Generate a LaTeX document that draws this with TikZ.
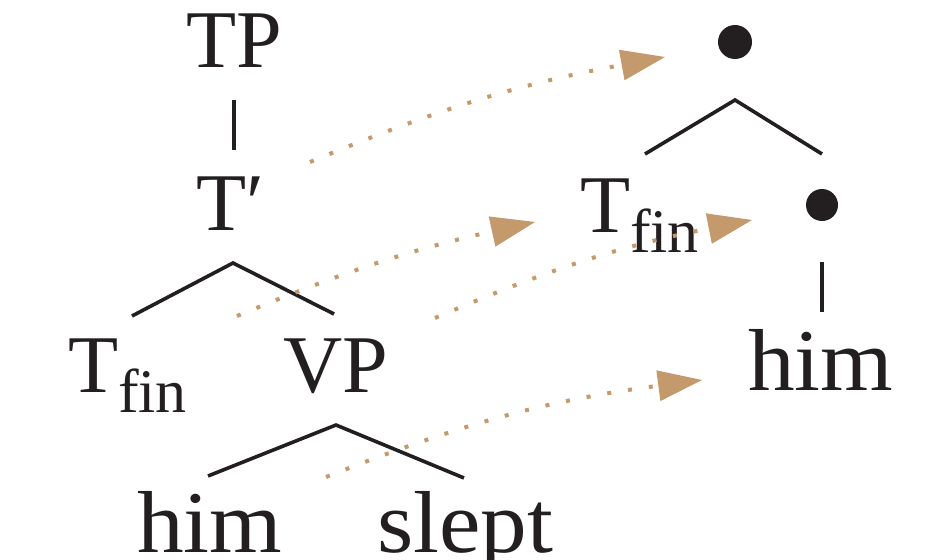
\documentclass[tikz,border=0pt]{standalone}
\usepackage{fontspec}
\setmainfont{Liberation Serif}
\usetikzlibrary{arrows.meta}
\definecolor{ink}{HTML}{231F20}
\definecolor{tan}{HTML}{C49A6C}
\newcommand{\bigtext}{\fontsize{82}{82}\selectfont}
\newcommand{\wordtext}{\fontsize{88}{88}\selectfont}
\newcommand{\wideword}[1]{\scalebox{1.06}[1]{#1}}
\newcommand{\subfin}{{\fontsize{62}{62}\selectfont\raisebox{-20pt}{fin}}}
\begin{document}
\begin{tikzpicture}[x=1pt,y=-1pt,
  lbl/.style={inner sep=0pt,outer sep=0pt,text=ink,font=\bigtext,anchor=base west},
  word/.style={lbl,font=\wordtext},
  branch/.style={draw=ink,line width=3.6pt},
  movearrow/.style={draw=tan,line width=4pt,dash pattern=on 4pt off 17pt,
    -{Triangle[length=44pt,width=31pt,fill=tan,line width=0pt]},shorten >=0pt},
  bullet/.style={circle,fill=ink,inner sep=0pt}]
\useasboundingbox (0,0) rectangle (941,559);

% left tree
\node[lbl,anchor=base] (tp) at (234,68) {TP};
\node[lbl] (tbar) at (196,230) {T′};
\node[lbl] (tfinL) at (68,392) {T\subfin};
\node[lbl] (vp) at (283,392) {VP};
\node[word] (himL) at (137,552) {\wideword{him}};
\node[word] (slept) at (377,552) {\wideword{slept}};

\coordinate (tpbot) at (234,100);
\coordinate (tbartop) at (234,150);
\coordinate (tbarapex) at (233,263);
\coordinate (tbarL) at (132,316);
\coordinate (tbarR) at (334,314);
\coordinate (vpapex) at (336,425);
\coordinate (vpL) at (208,476);
\coordinate (vpR) at (464,478);
\draw[branch] (tpbot) -- (tbartop);
\draw[branch] (tbarL) -- (tbarapex) -- (tbarR);
\draw[branch] (vpL) -- (vpapex) -- (vpR);

% right tree
\node[bullet,minimum size=34pt] (top) at (735,42) {};
\node[lbl] (tfinR) at (580,232) {T\subfin};
\node[bullet,minimum size=32pt] (inner) at (822,205) {};
\node[word] (himR) at (748,390) {\wideword{him}};

\coordinate (topapex) at (735,100);
\coordinate (topL) at (645,154);
\coordinate (topR) at (822,154);
\coordinate (innerbot) at (822,262);
\coordinate (himtop) at (822,312);
\draw[branch] (topL) -- (topapex) -- (topR);
\draw[branch] (innerbot) -- (himtop);

% movement arrows
\coordinate (s1) at (310,162);
\coordinate (e1) at (665,57);
\coordinate (s2) at (237,316);
\coordinate (e2) at (535,222);
\coordinate (s3) at (435,318);
\coordinate (e3) at (752,220);
\coordinate (s4) at (326,477);
\coordinate (e4) at (702,380);
\draw[movearrow] (s1) to[bend left=6] (e1);
\draw[movearrow] (s2) to[bend left=5] (e2);
\draw[movearrow] (s3) to[bend left=6] (e3);
\draw[movearrow] (s4) to[bend left=7] (e4);
\end{tikzpicture}
\end{document}
